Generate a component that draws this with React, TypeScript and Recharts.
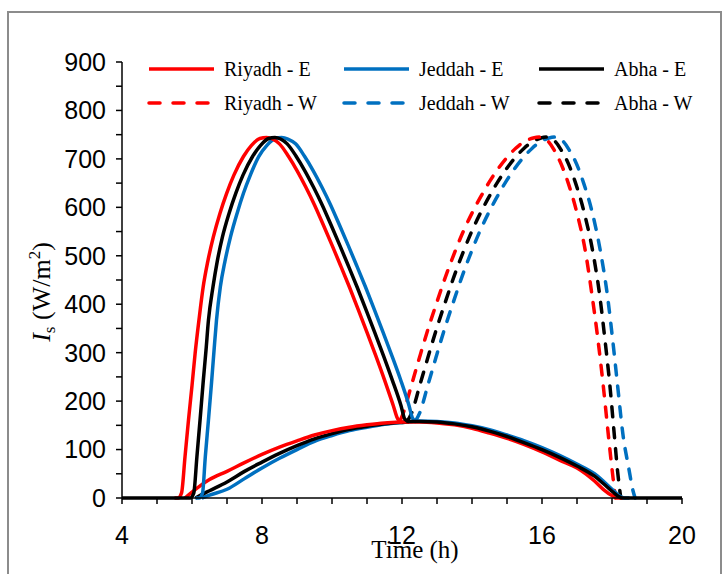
import { LineChart, Line, XAxis, YAxis } from "recharts";

type Pair = [number, number];

// time (h) vs Is (W/m2)
const riyadhE: Pair[] = [
  [5.5, 0], [5.6, 0], [5.7, 10], [5.8, 85], [5.9, 161], [6.0, 232], [6.09, 299], [6.2, 368], [6.32, 436],
  [6.45, 488], [6.61, 539], [6.8, 588], [6.99, 629], [7.2, 667], [7.47, 705], [7.7, 728], [7.94, 742],
  [8.13, 744], [8.3, 741], [8.5, 731], [8.75, 706], [9.0, 676], [9.25, 642], [9.5, 605], [9.75, 564],
  [10.0, 522], [10.25, 479], [10.5, 435], [10.75, 389], [11.0, 342], [11.25, 294], [11.5, 244],
  [11.75, 191], [11.88, 163], [12.0, 157], [12.5, 157], [13.0, 155], [13.5, 151], [14.0, 144],
  [14.5, 134], [15.0, 123], [15.5, 110], [16.0, 95], [16.5, 78], [17.0, 62], [17.25, 50], [17.5, 35],
  [17.75, 18], [18.0, 5], [18.15, 0], [18.3, 0],
];
const riyadhWam: Pair[] = [
  [5.8, 0], [6.0, 12], [6.25, 26], [6.5, 38], [7.0, 55], [7.5, 73], [8.0, 90], [8.5, 105], [9.0, 118],
  [9.5, 130], [10.0, 139], [10.5, 146], [11.0, 151], [11.5, 155], [12.0, 157],
];
const riyadhW: Pair[] = [
  [11.95, 160], [12.05, 178], [12.25, 228], [12.5, 290], [12.75, 350], [13.0, 405], [13.25, 458],
  [13.5, 506], [13.75, 550], [14.0, 588], [14.25, 622], [14.5, 653], [14.75, 680], [15.0, 703],
  [15.25, 722], [15.5, 736], [15.75, 743], [15.95, 745], [16.15, 738], [16.35, 718], [16.5, 697],
  [16.75, 650], [17.0, 588], [17.25, 505], [17.42, 423], [17.6, 326], [17.75, 232], [17.9, 127],
  [18.0, 60], [18.1, 0],
];

const jeddahE: Pair[] = [
  [6.1, 0], [6.2, 0], [6.3, 10], [6.38, 85], [6.47, 161], [6.56, 240], [6.63, 305], [6.7, 367], [6.81, 436],
  [6.94, 488], [7.1, 539], [7.29, 588], [7.47, 629], [7.67, 667], [7.91, 705], [8.14, 728], [8.38, 742],
  [8.56, 744], [8.74, 741], [8.96, 731], [9.21, 706], [9.46, 676], [9.71, 642], [9.96, 605], [10.21, 564],
  [10.46, 522], [10.71, 479], [10.96, 435], [11.21, 389], [11.46, 342], [11.71, 294], [11.96, 244],
  [12.2, 191], [12.3, 165], [12.4, 159], [12.5, 159], [13.0, 158], [13.5, 155], [14.0, 149],
  [14.5, 141], [15.0, 130], [15.5, 118], [16.0, 104], [16.5, 88], [17.0, 70], [17.5, 50], [17.75, 35],
  [18.0, 18], [18.2, 5], [18.35, 0], [18.5, 0],
];
const jeddahWam: Pair[] = [
  [6.28, 0], [6.5, 6], [7.0, 18], [7.5, 40], [8.0, 62], [8.5, 82], [9.0, 100], [9.5, 117], [10.0, 129],
  [10.5, 139], [11.0, 146], [11.5, 152], [12.0, 156], [12.3, 158],
];
const jeddahW: Pair[] = [
  [12.38, 158], [12.52, 178], [12.72, 228], [12.97, 290], [13.22, 350], [13.47, 405], [13.72, 458],
  [13.97, 506], [14.22, 550], [14.47, 588], [14.72, 622], [14.97, 653], [15.22, 680], [15.47, 703],
  [15.72, 722], [15.97, 736], [16.2, 743], [16.38, 745], [16.58, 738], [16.78, 718], [16.94, 697],
  [17.19, 650], [17.44, 588], [17.68, 505], [17.86, 423], [18.02, 326], [18.16, 232], [18.32, 127],
  [18.47, 65], [18.6, 15], [18.66, 0],
];

const abhaE: Pair[] = [
  [4, 0], [5.95, 0], [6.05, 10], [6.14, 85], [6.23, 161], [6.32, 240], [6.4, 305], [6.47, 367],
  [6.6, 436], [6.72, 488], [6.87, 539], [7.06, 588], [7.25, 629], [7.46, 667], [7.73, 705], [7.96, 728],
  [8.19, 742], [8.37, 744], [8.53, 741], [8.72, 731], [8.97, 706], [9.22, 676], [9.47, 642], [9.72, 605],
  [9.97, 564], [10.22, 522], [10.47, 479], [10.72, 435], [10.97, 389], [11.22, 342], [11.47, 294],
  [11.72, 244], [11.97, 191], [12.08, 163], [12.2, 158], [12.5, 158], [13.0, 157], [13.5, 153],
  [14.0, 147], [14.5, 138], [15.0, 127], [15.5, 114], [16.0, 100], [16.5, 84], [17.0, 66], [17.5, 45],
  [17.75, 30], [18.0, 14], [18.15, 5], [18.3, 0], [20, 0],
];
const abhaWam: Pair[] = [
  [6.1, 0], [6.25, 6], [6.5, 15], [7.0, 33], [7.5, 55], [8.0, 74], [8.5, 92], [9.0, 108], [9.5, 122],
  [10.0, 133], [10.5, 142], [11.0, 148], [11.5, 153], [12.0, 156], [12.2, 157],
];
const abhaW: Pair[] = [
  [12.15, 158], [12.29, 178], [12.49, 228], [12.74, 290], [12.99, 350], [13.24, 405], [13.49, 458],
  [13.74, 506], [13.99, 550], [14.24, 588], [14.49, 622], [14.74, 653], [14.99, 680], [15.24, 703],
  [15.49, 722], [15.74, 736], [15.97, 743], [16.15, 745], [16.35, 738], [16.55, 718], [16.71, 697],
  [16.96, 650], [17.21, 588], [17.46, 505], [17.64, 423], [17.8, 326], [17.94, 232], [18.07, 127],
  [18.16, 55], [18.25, 0],
];

const xTicks = [4, 5, 6, 7, 8, 9, 10, 11, 12, 13, 14, 15, 16, 17, 18, 19, 20];
const yTicks = [0, 50, 100, 150, 200, 250, 300, 350, 400, 450, 500, 550, 600, 650, 700, 750, 800, 850, 900];

const RED = "#FF0000";
const BLUE = "#0070C0";
const BLACK = "#000000";
const DASH = "10 11";

const toPts = (p: Pair[]) => p.map(([t, v]) => ({ t, v }));

const legendItems = [
  { name: "Riyadh - E", color: RED, dashed: false },
  { name: "Jeddah - E", color: BLUE, dashed: false },
  { name: "Abha - E", color: BLACK, dashed: false },
  { name: "Riyadh - W", color: RED, dashed: true },
  { name: "Jeddah - W", color: BLUE, dashed: true },
  { name: "Abha - W", color: BLACK, dashed: true },
];

const serif = "'Liberation Serif', 'Times New Roman', serif";
const sans = "'Liberation Sans', Arial, sans-serif";

function LegendBox() {
  return (
    <div style={{ position: "absolute", left: 146, top: 55, width: 570, fontFamily: serif, fontSize: 20 }}>
      {legendItems.map((it, i) => (
        <div
          key={it.name}
          style={{
            position: "absolute",
            left: (i % 3) * 195,
            top: Math.floor(i / 3) * 34,
            display: "flex",
            alignItems: "center",
            height: 28,
          }}
        >
          <svg width={70} height={10}>
            <line
              x1={3}
              y1={5}
              x2={68}
              y2={5}
              stroke={it.color}
              strokeWidth={3.5}
              strokeDasharray={it.dashed ? "11 13" : undefined}
              strokeLinecap={it.dashed ? "round" : "butt"}
            />
          </svg>
          <span style={{ marginLeft: 8, whiteSpace: "nowrap" }}>{it.name}</span>
        </div>
      ))}
    </div>
  );
}

export default function App() {
  const lineProps = { type: "monotone" as const, dataKey: "v", dot: false, isAnimationActive: false, strokeWidth: 3.5 };
  return (
    <div style={{ position: "absolute", left: 0, top: 0, width: 725, height: 574, background: "#fff", overflow: "hidden" }}>
      <div style={{ position: "absolute", left: 7, top: 11, width: 711, height: 600, border: "2px solid #8c8c8c" }} />
      <div style={{ position: "absolute", left: 0, top: 0 }}>
        <LineChart width={725} height={574} margin={{ top: 62, right: 43, bottom: 36, left: 0 }}>
          <XAxis
            type="number"
            dataKey="t"
            domain={[4, 20]}
            ticks={xTicks}
            tickFormatter={(v: number) => (v % 4 === 0 ? String(v) : "")}
            height={40}
            tickSize={6}
            tickMargin={22}
            stroke="#000"
            strokeWidth={1.5}
            tick={{ fill: "#000", fontSize: 25, fontFamily: sans }}
            allowDuplicatedCategory={false}
          />
          <YAxis
            type="number"
            domain={[0, 900]}
            ticks={yTicks}
            tickFormatter={(v: number) => (v % 100 === 0 ? String(v) : "")}
            width={122}
            tickSize={6}
            tickMargin={10}
            stroke="#000"
            strokeWidth={1.5}
            tick={{ fill: "#000", fontSize: 25, fontFamily: sans }}
          />
          <Line {...lineProps} data={toPts(jeddahWam)} stroke={BLUE} legendType="none" />
          <Line {...lineProps} data={toPts(abhaWam)} stroke={BLACK} legendType="none" />
          <Line {...lineProps} data={toPts(riyadhWam)} stroke={RED} legendType="none" />
          <Line {...lineProps} data={toPts(jeddahW)} stroke={BLUE} strokeDasharray={DASH} strokeLinecap="round" name="Jeddah - W" />
          <Line {...lineProps} data={toPts(abhaW)} stroke={BLACK} strokeDasharray={DASH} strokeLinecap="round" name="Abha - W" />
          <Line {...lineProps} data={toPts(riyadhW)} stroke={RED} strokeDasharray={DASH} strokeLinecap="round" name="Riyadh - W" />
          <Line {...lineProps} data={toPts(jeddahE)} stroke={BLUE} name="Jeddah - E" />
          <Line {...lineProps} data={toPts(riyadhE)} stroke={RED} name="Riyadh - E" />
          <Line {...lineProps} data={toPts(abhaE)} stroke={BLACK} name="Abha - E" />
        </LineChart>
      </div>
      <LegendBox />
      <svg width={725} height={574} style={{ position: "absolute", left: 0, top: 0, pointerEvents: "none" }}>
        <text x={415} y={558} textAnchor="middle" fontFamily={serif} fontSize={25} fill="#000">
          Time (h)
        </text>
        <text transform="translate(50,292) rotate(-90)" textAnchor="middle" fontFamily={serif} fontSize={26} fill="#000">
          <tspan fontStyle="italic">I</tspan>
          <tspan fontSize={17} dy={5}>s</tspan>
          <tspan dy={-5}> (W/m</tspan>
          <tspan fontSize={17} dy={-10}>2</tspan>
          <tspan dy={10}>)</tspan>
        </text>
      </svg>
    </div>
  );
}
